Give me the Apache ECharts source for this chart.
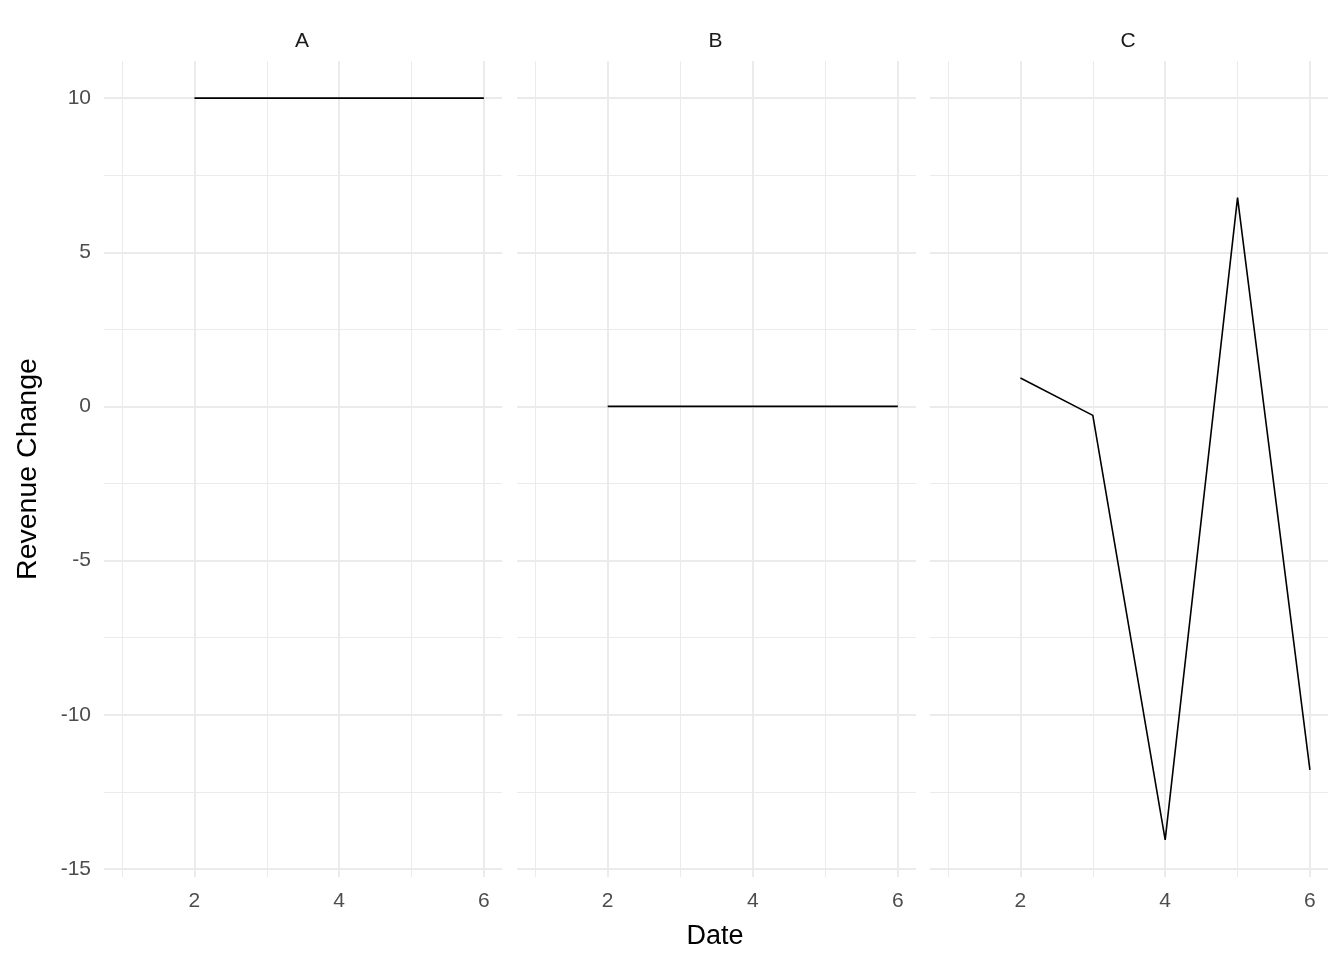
<!DOCTYPE html>
<html>
<head>
<meta charset="utf-8">
<script src="https://cdn.jsdelivr.net/npm/echarts@6/dist/echarts.min.js"></script>
<style>
html,body{margin:0;padding:0;background:#fff;}
#chart{width:1344px;height:960px;}
</style>
</head>
<body>
<div id="chart"></div>
<script>
// ---- data ----
const panels = ['A', 'B', 'C'];
const dates = [2, 3, 4, 5, 6];
const valuesA = [10, 10, 10, 10, 10];
const valuesB = [0, 0, 0, 0, 0];
const valuesC = [0.92, -0.29, -14.06, 6.77, -11.79];
const yTicks = [-15, -10, -5, 0, 5, 10];
const yMinorTicks = [-12.5, -7.5, -2.5, 2.5, 7.5];
const xTicks = [2, 4, 6];
const xMinorTicks = [1, 3, 5];
const xLimits = [0.75, 6.25];
const yTitle = 'Revenue Change';
const xTitle = 'Date';

const seriesValues = [valuesA, valuesB, valuesC];
const allVals = [].concat(valuesA, valuesB, valuesC);
const vMin = Math.min.apply(null, allVals), vMax = Math.max.apply(null, allVals);
const pad = (vMax - vMin) * 0.05;
const yLimits = [vMin - pad, vMax + pad];

const FONT = 'Liberation Sans, Arial, sans-serif';
const gridPos = [
  {left: 104, width: 398},
  {left: 517, width: 399},
  {left: 930, width: 398}
];
const TOP = 61, HEIGHT = 816;

const chart = echarts.init(document.getElementById('chart'), null, {renderer: 'canvas'});

const grids = [], xAxes = [], yAxes = [], series = [], titles = [];
panels.forEach((p, i) => {
  grids.push({left: gridPos[i].left, width: gridPos[i].width, top: TOP, height: HEIGHT, containLabel: false});
  xAxes.push({
    type: 'value', gridIndex: i, min: xLimits[0], max: xLimits[1],
    axisLine: {show: false}, axisTick: {show: false, customValues: xTicks},
    splitLine: {show: false}, minorSplitLine: {show: false},
    axisLabel: {customValues: xTicks, color: '#4D4D4D', fontSize: 21, fontFamily: FONT, margin: 14}
  });
  yAxes.push({
    type: 'value', gridIndex: i, min: yLimits[0], max: yLimits[1],
    axisLine: {show: false}, axisTick: {show: false, customValues: yTicks},
    splitLine: {show: false},
    axisLabel: {show: i === 0, customValues: yTicks, color: '#4D4D4D', fontSize: 21, fontFamily: FONT, margin: 13}
  });
  const ml = [];
  xMinorTicks.forEach(v => ml.push({xAxis: v, lineStyle: {color: '#EBEBEB', width: 1, type: 'solid'}}));
  yMinorTicks.forEach(v => ml.push({yAxis: v, lineStyle: {color: '#EBEBEB', width: 1, type: 'solid'}}));
  xTicks.forEach(v => ml.push({xAxis: v, lineStyle: {color: '#EBEBEB', width: 2, type: 'solid'}}));
  yTicks.forEach(v => ml.push({yAxis: v, lineStyle: {color: '#EBEBEB', width: 2, type: 'solid'}}));
  series.push({
    type: 'line', xAxisIndex: i, yAxisIndex: i, data: [], z: 1, silent: true,
    markLine: {silent: true, symbol: ['none', 'none'], label: {show: false}, animation: false, data: ml}
  });
  series.push({
    name: p, type: 'line', xAxisIndex: i, yAxisIndex: i, z: 5,
    data: dates.map((d, k) => [d, seriesValues[i][k]]),
    showSymbol: false, symbol: 'none',
    lineStyle: {color: '#000000', width: 1.6}
  });
  titles.push({
    text: p, left: gridPos[i].left + gridPos[i].width / 2 - 6, top: 26, textAlign: 'center',
    textStyle: {fontSize: 21, fontWeight: 'normal', color: '#1A1A1A', fontFamily: FONT}
  });
});

chart.setOption({
  animation: false,
  backgroundColor: '#ffffff',
  title: titles,
  grid: grids,
  xAxis: xAxes,
  yAxis: yAxes,
  series: series,
  graphic: [
    {type: 'text', x: 28, y: 469, rotation: Math.PI / 2,
     style: {text: yTitle, fontSize: 28.5, fontFamily: FONT, fill: '#000', textAlign: 'center', textVerticalAlign: 'middle'}},
    {type: 'text', x: 715, y: 937,
     style: {text: xTitle, fontSize: 27, fontFamily: FONT, fill: '#000', textAlign: 'center', textVerticalAlign: 'middle'}}
  ]
});
</script>
</body>
</html>
